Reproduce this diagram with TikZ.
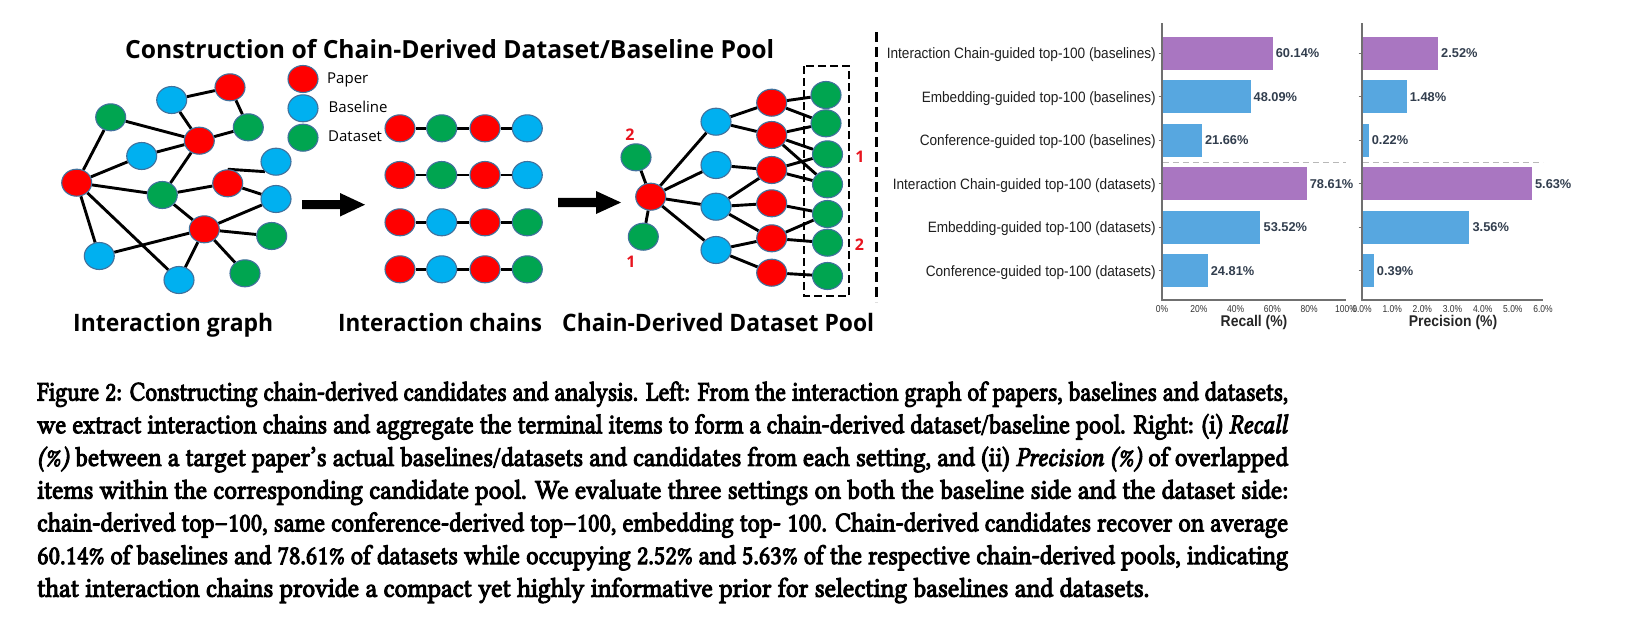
\documentclass[tikz,border=0pt]{standalone}
\usepackage{fontspec}
\usepackage{graphicx}
\setmainfont{Libertinus Serif}
\newfontfamily\osans{Open Sans}
\newfontfamily\lsans{Liberation Sans}
\usetikzlibrary{shapes.geometric,backgrounds}
\definecolor{cRed}{HTML}{FF0000}
\definecolor{cBlue}{HTML}{00B0F0}
\definecolor{cGreen}{HTML}{00A550}
\definecolor{cEdge}{HTML}{41719C}
\definecolor{barP}{HTML}{A976C1}
\definecolor{barB}{HTML}{57A7E0}
\definecolor{valc}{HTML}{323E4E}
\definecolor{numred}{HTML}{E8141E}
\definecolor{axc}{HTML}{707070}
\newcommand{\fitw}[2]{\resizebox{#1}{\height}{#2}}
\newcommand{\heavy}[1]{\special{pdf:literal direct 2 Tr 1.05 w}#1\special{pdf:literal direct 0 Tr}}
\begin{document}
\begin{tikzpicture}[x=1pt,y=-1pt,
  gnode/.style={ellipse, minimum width=30pt, minimum height=27pt, inner sep=0pt, draw=cEdge, line width=1.1pt},
  pap/.style={gnode, fill=cRed},
  bas/.style={gnode, fill=cBlue},
  dat/.style={gnode, fill=cGreen},
  edge/.style={line width=2.9pt, black},
  bigtxt/.style={inner sep=0pt, anchor=base west, font=\osans\bfseries\fontsize{25}{25}\selectfont},
  legtxt/.style={inner sep=0pt, anchor=base west, font=\osans\fontsize{15}{15}\selectfont},
  rednum/.style={inner sep=0pt, text=numred, font=\osans\bfseries\fontsize{16}{16}\selectfont},
  captxt/.style={inner sep=0pt, anchor=base west, text=black, font=\fontsize{27}{27}\selectfont},
  cattxt/.style={inner sep=0pt, anchor=base east, text=black!88, font=\lsans\fontsize{15}{15}\selectfont},
  valtxt/.style={inner sep=0pt, anchor=base west, text=valc, font=\lsans\bfseries\fontsize{12.8}{12.8}\selectfont},
  ticktxt/.style={inner sep=0pt, anchor=base, text=black!80, font=\lsans\fontsize{10}{10}\selectfont},
  axtitle/.style={inner sep=0pt, anchor=base, text=black!85, font=\lsans\bfseries\fontsize{15.5}{15.5}\selectfont},
  axisline/.style={axc, line width=1.2pt},
  sepline/.style={black!28, line width=1pt, dash pattern=on 6pt off 4pt},
  bigdash/.style={black, line width=3pt, dash pattern=on 10pt off 5pt}
]
\useasboundingbox (0,0) rectangle (1627,635);

% ---------- title ----------
\node[bigtxt] (title) at (125,58) {\fitw{649pt}{Construction of Chain-Derived Dataset/Baseline Pool}};

% ---------- interaction graph ----------
\node[pap] (rL)  at (76.7,182.7) {};
\node[dat] (gTL) at (110.7,117.3) {};
\node[bas] (bT)  at (171.7,100) {};
\node[pap] (rT)  at (230,87.3) {};
\node[dat] (gRT) at (248.3,127.3) {};
\node[pap] (rM)  at (199.3,140.7) {};
\node[bas] (bML) at (141.7,156) {};
\node[bas] (bRT) at (276,161.7) {};
\node[pap] (rRM) at (227.7,183.3) {};
\node[dat] (gC)  at (162.3,195) {};
\node[bas] (bR)  at (276,199) {};
\node[pap] (rLo) at (204.3,229.3) {};
\node[dat] (gRL) at (271.7,236) {};
\node[bas] (bBL) at (99.3,256) {};
\node[bas] (bB)  at (179,280) {};
\node[dat] (gB)  at (245,273.3) {};

% legend
\node[pap] (legP) at (303,79) {};
\node[bas] (legB) at (303,108.3) {};
\node[dat] (legD) at (303,137.7) {};
\node[legtxt] (legPt) at (327,83.5) {Paper};
\node[legtxt] (legBt) at (328.5,112.7) {Baseline};
\node[legtxt] (legDt) at (328,141.7) {Dataset};

% ---------- interaction chains ----------
\foreach \r/\yy/\a/\b/\c/\d in {1/128.3/pap/dat/pap/bas, 2/175/pap/dat/pap/bas, 3/222.3/pap/bas/pap/dat, 4/269.3/pap/bas/pap/dat}{
  \node[\a] (c\r a) at (400,\yy) {};
  \node[\b] (c\r b) at (441.7,\yy) {};
  \node[\c] (c\r c) at (485,\yy) {};
  \node[\d] (c\r d) at (527.3,\yy) {};
}

% ---------- chain-derived pool ----------
\node[pap] (pC)  at (650.7,196.7) {};
\node[dat] (pGt) at (636,157.3) {};
\node[dat] (pGb) at (643.3,236.7) {};
\node[bas] (pB1) at (716,121.7) {};
\node[bas] (pB2) at (716,165) {};
\node[bas] (pB3) at (716,206.7) {};
\node[bas] (pB4) at (716,250) {};
\node[pap] (pR1) at (771.7,102.7) {};
\node[pap] (pR2) at (771.7,135) {};
\node[pap] (pR3) at (771.7,170) {};
\node[pap] (pR4) at (771.7,203.3) {};
\node[pap] (pR5) at (771.7,238.3) {};
\node[pap] (pR6) at (771.7,272.7) {};
\node[dat] (pG1) at (826,95) {};
\node[dat] (pG2) at (826,123.3) {};
\node[dat] (pG3) at (827.5,154.3) {};
\node[dat] (pG4) at (827.5,184.3) {};
\node[dat] (pG5) at (827.5,214) {};
\node[dat] (pG6) at (827.5,242.7) {};
\node[dat] (pG7) at (827.5,276) {};
\draw[line width=2.6pt, dash pattern=on 8pt off 4pt] (804,66) rectangle (849,296);
\node[rednum] (n2a) at (630,135) {2};
\node[rednum] (n1a) at (631,261.7) {1};
\node[rednum] (n1b) at (860,156.7) {1};
\node[rednum] (n2b) at (859.5,245) {2};

% arrows
\fill[black] (302,200.2) -- (340,200.2) -- (340,193) -- (365,204.7) -- (340,216.5) -- (340,209.2) -- (302,209.2) -- cycle;
\fill[black] (558,197.8) -- (596,197.8) -- (596,191) -- (621,202.5) -- (596,214) -- (596,207.2) -- (558,207.2) -- cycle;

% bottom labels
\node[bigtxt, font=\osans\bfseries\fontsize{24}{24}\selectfont] (lab1) at (73,331.5) {\fitw{200pt}{Interaction graph}};
\node[bigtxt, font=\osans\bfseries\fontsize{24}{24}\selectfont] (lab2) at (338,331.5) {\fitw{204pt}{Interaction chains}};
\node[bigtxt, font=\osans\bfseries\fontsize{24}{24}\selectfont] (lab3) at (562,331.5) {\fitw{312pt}{Chain-Derived Dataset Pool}};

% separator
\draw[bigdash] (876,32) -- (876,302);

% ---------- edges (behind) ----------
\begin{scope}[on background layer]
\fill[white] (0,0) rectangle (1627,635);
\foreach \u/\v in {rL/gTL, rL/bML, bML/rM, gTL/rM, bT/rM, bT/rT, rT/gRT, rM/gRT, rM/gC, rL/gC, gC/rRM, rRM/bR, gC/rLo, rLo/bR, rLo/gRL, rLo/gB, rLo/bB, rLo/bBL, rL/bBL, rL/bB}
  \draw[edge] (\u) -- (\v);
\draw[edge] (rRM.north) -- (bRT.south west);
\foreach \r in {1,2,3,4}{
  \draw[edge] (c\r a) -- (c\r b) -- (c\r c) -- (c\r d);
}
\foreach \u/\v in {pC/pGt, pC/pGb, pC/pB1, pC/pB2, pC/pB3, pC/pB4, pB1/pR1, pB1/pR2, pB2/pR3, pB3/pR3, pB3/pR4, pB3/pR5, pB4/pR5, pB4/pR6, pR1/pG1, pR1/pG2, pR2/pG2, pR2/pG3, pR2/pG4, pR3/pG3, pR3/pG4, pR4/pG5, pR5/pG5, pR5/pG6, pR6/pG7}
  \draw[edge] (\u) -- (\v);
\end{scope}

% ---------- charts ----------
\foreach \i/\rv/\pv/\cc/\w/\lab in {
  1/60.14/2.52/barP/269/Interaction Chain-guided top-100 (baselines),
  2/48.09/1.48/barB/234/Embedding-guided top-100 (baselines),
  3/21.66/0.22/barB/236/Conference-guided top-100 (baselines),
  4/78.61/5.63/barP/263/Interaction Chain-guided top-100 (datasets),
  5/53.52/3.56/barB/228/Embedding-guided top-100 (datasets),
  6/24.81/0.39/barB/230/Conference-guided top-100 (datasets)}{
  \pgfmathsetmacro\yc{53.3+(\i-1)*43.5}
  \fill[\cc] (1162,\yc-16.6) rectangle ({1162+\rv*1.84},\yc+16.6);
  \fill[\cc] (1362,\yc-16.6) rectangle ({1362+\pv*30.17},\yc+16.6);
  \node[valtxt] (rv\i) at ({1162+\rv*1.84+3},\yc+4.6) {\rv\%};
  \node[valtxt] (pv\i) at ({1362+\pv*30.17+3},\yc+4.6) {\pv\%};
  \node[cattxt] (cat\i) at (1156,\yc+5.5) {\fitw{\w pt}{\lab}};
  \draw[axisline] (1158.5,\yc) -- (1162,\yc);
  \draw[axisline] (1358.5,\yc) -- (1362,\yc);
}
\draw[sepline] (1163,162) -- (1346,162);
\draw[sepline] (1363,162) -- (1543,162);
\draw[axisline] (1162,23) -- (1162,300) -- (1346,300);
\draw[axisline] (1362,23) -- (1362,300) -- (1543,300);
\foreach \t in {0,20,40,60,80,100}{
  \node[ticktxt] at ({1162+\t*1.84},312.5) {\scalebox{0.85}[1]{\t\%}};
}
\foreach \t in {0,1,2,3,4,5,6}{
  \node[ticktxt] at ({1362+\t*30.17},312.5) {\scalebox{0.85}[1]{\t.0\%}};
}
\node[axtitle] (recT) at (1254,326.5) {\scalebox{0.9}[1]{Recall (\%)}};
\node[axtitle] (preT) at (1453,326.5) {\scalebox{0.9}[1]{Precision (\%)}};

% ---------- caption ----------
\node[captxt] (cap1) at (37,400.5) {\heavy{\fitw{1251pt}{Figure 2: Constructing chain-derived candidates and analysis. Left: From the interaction graph of papers, baselines and datasets,}}};
\node[captxt] (cap2) at (37,433.2) {\heavy{\fitw{1251pt}{we extract interaction chains and aggregate the terminal items to form a chain-derived dataset/baseline pool. Right: (i) \textit{Recall}}}};
\node[captxt] (cap3) at (37,465.9) {\heavy{\fitw{1251pt}{\textit{(\%)} between a target paper’s actual baselines/datasets and candidates from each setting, and (ii) \textit{Precision (\%)} of overlapped}}};
\node[captxt] (cap4) at (37,498.6) {\heavy{\fitw{1251pt}{items within the corresponding candidate pool. We evaluate three settings on both the baseline side and the dataset side:}}};
\node[captxt] (cap5) at (37,531.3) {\heavy{\fitw{1251pt}{chain-derived top–100, same conference-derived top–100, embedding top- 100. Chain-derived candidates recover on average}}};
\node[captxt] (cap6) at (37,564) {\heavy{\fitw{1251pt}{60.14\% of baselines and 78.61\% of datasets while occupying 2.52\% and 5.63\% of the respective chain-derived pools, indicating}}};
\node[captxt] (cap7) at (37,596.7) {\heavy{\fitw{1112pt}{that interaction chains provide a compact yet highly informative prior for selecting baselines and datasets.}}};
\end{tikzpicture}
\end{document}
